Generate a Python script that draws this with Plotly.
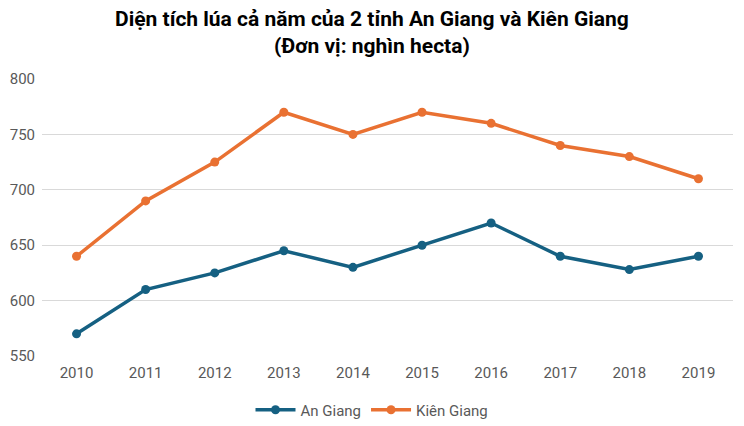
import plotly.graph_objects as go

nam = ["2010", "2011", "2012", "2013", "2014", "2015", "2016", "2017", "2018", "2019"]
an_giang = [570, 610, 625, 645, 630, 650, 670, 640, 628, 640]
kien_giang = [640, 690, 725, 770, 750, 770, 760, 740, 730, 710]

tieu_de = "Diện tích lúa cả năm của 2 tỉnh An Giang và Kiên Giang"
don_vi = "(Đơn vị: nghìn hecta)"

fig = go.Figure()

fig.add_trace(go.Scatter(
    x=nam, y=an_giang, name="An Giang", mode="lines+markers",
    line=dict(color="#156082", width=3.5),
    marker=dict(size=9, color="#156082")
))
fig.add_trace(go.Scatter(
    x=nam, y=kien_giang, name="Kiên Giang", mode="lines+markers",
    line=dict(color="#E97132", width=3.5),
    marker=dict(size=9, color="#E97132")
))

# tâm của toàn hình (không phải vùng vẽ)
giua = (364 - 34) / 691

# tiêu đề hai dòng (trang có lề body 8px)
fig.add_annotation(text="<b>" + tieu_de + "</b>", xref="paper", yref="paper",
                   x=giua, y=1 + 60 / 277, yanchor="middle",
                   showarrow=False, font=dict(size=21, color="black"))
fig.add_annotation(text="<b>" + don_vi + "</b>", xref="paper", yref="paper",
                   x=giua, y=1 + 33 / 277, yanchor="middle",
                   showarrow=False, font=dict(size=21, color="black"))

fig.update_layout(
    width=736,
    height=418,
    margin=dict(l=34, r=11, t=71, b=70, autoexpand=False),
    paper_bgcolor="white",
    plot_bgcolor="white",
    font=dict(family="Roboto, Liberation Sans, sans-serif", color="#595959", size=14),
    legend=dict(
        orientation="h", x=giua, xanchor="center", y=-0.195, yanchor="middle",
        font=dict(size=15, color="#595959"),
        itemwidth=40
    ),
    xaxis=dict(
        type="category", range=[-0.5, 9.5], showgrid=False,
        showline=False, ticks="", ticklabelstandoff=6, tickfont=dict(size=15)
    ),
    yaxis=dict(
        range=[550, 800], dtick=50, showgrid=True, gridcolor="#D9D9D9",
        gridwidth=1, zeroline=False, showline=False, ticks="",
        ticklabelstandoff=6, tickfont=dict(size=15)
    ),
)

fig.write_html("out.html")
